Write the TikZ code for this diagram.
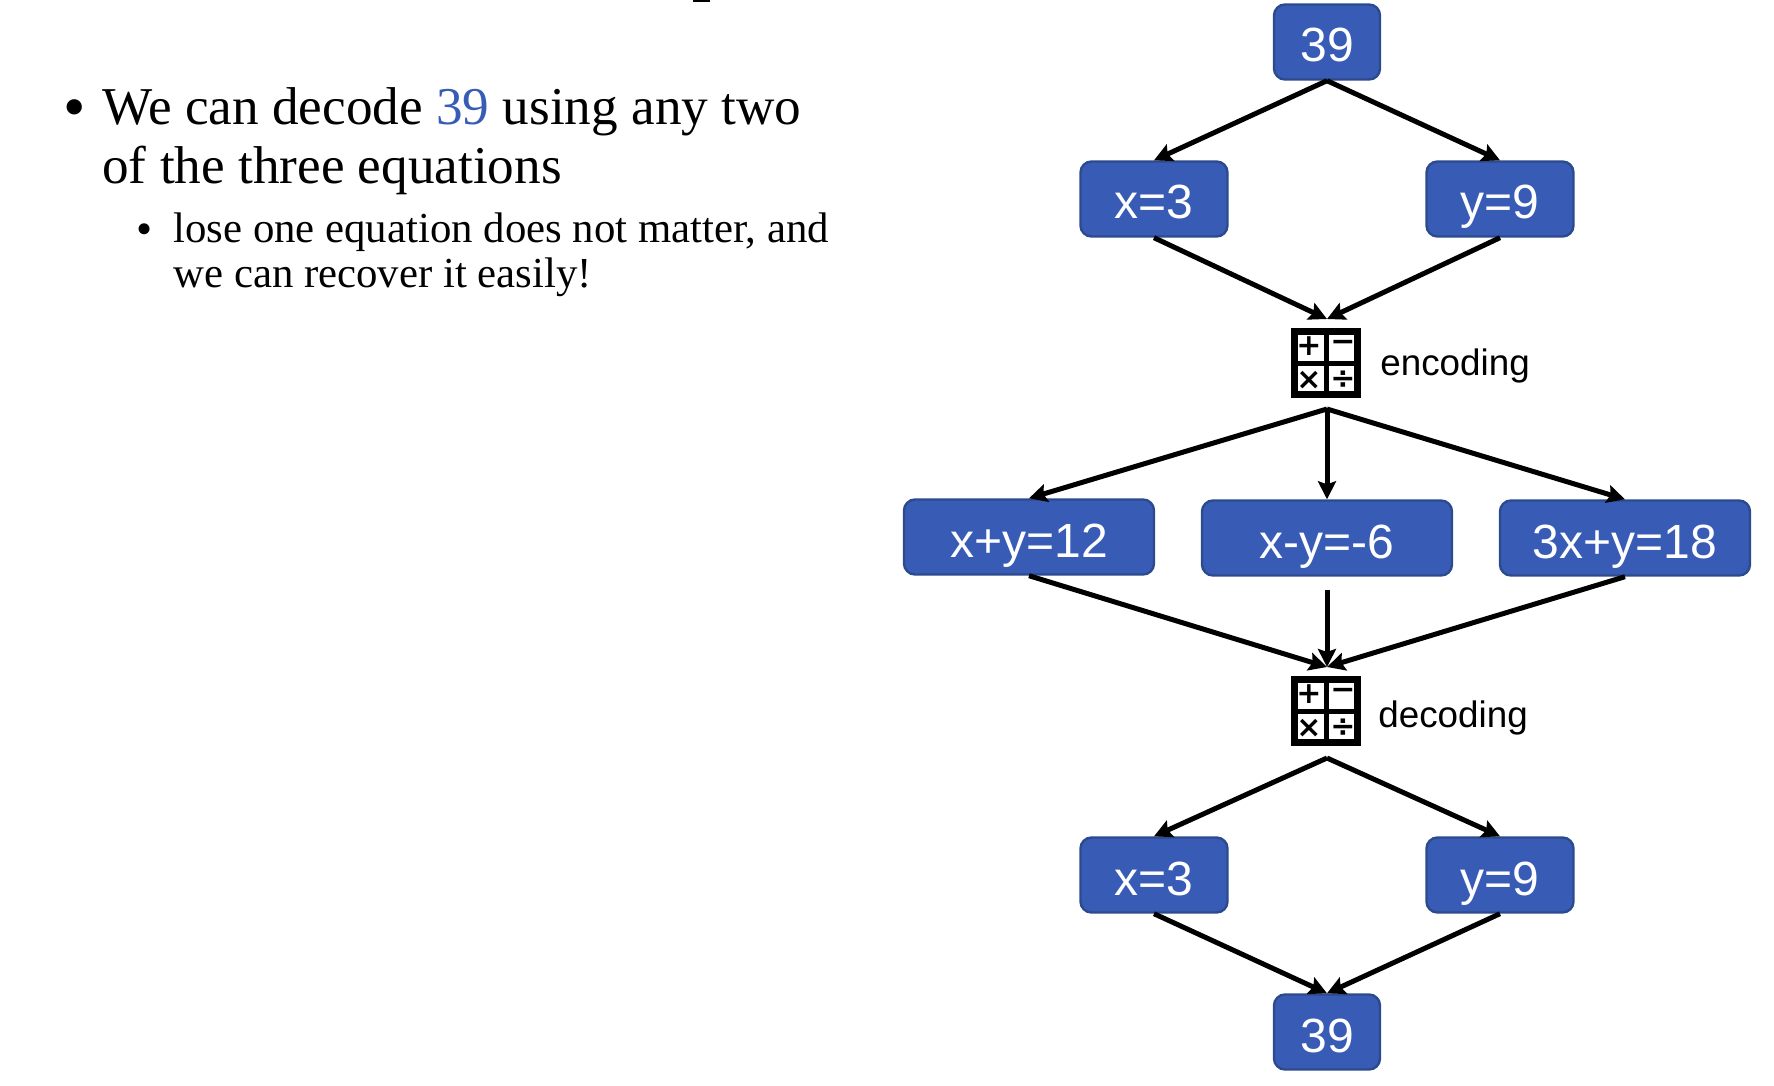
\documentclass[tikz,border=0pt]{standalone}
\usepackage{fontspec}
\setmainfont{Liberation Serif}
\setsansfont{Liberation Sans}
\newfontfamily\signfont{DejaVu Sans}
\usetikzlibrary{arrows.meta}
\definecolor{boxblue}{HTML}{385CB6}
\definecolor{boxline}{HTML}{2C4A8E}

% four signs and the cross inside an icon node
\newcommand{\calcsigns}[1]{
  \draw [line width=2.5pt] (#1.north) -- (#1.south);
  \draw [line width=2.5pt] (#1.west) -- (#1.east);
  \node [sign, xshift=-8.5pt, yshift=8.5pt] (#1plus) at (#1) {+};
  \node [sign, xshift=8.5pt, yshift=8.5pt] (#1minus) at (#1) {−};
  \node [sign, xshift=-8.5pt, yshift=-8.5pt] (#1times) at (#1) {×};
  \node [sign, xshift=8.5pt, yshift=-8.5pt] (#1div) at (#1) {÷};
}

\begin{document}
\begin{tikzpicture}
      [every node/.style={inner sep=0pt},
      numbox/.style={rectangle, draw=boxline, line width=1.2pt, fill=boxblue, rounded corners=5.5pt,
        text=white, font=\sffamily\fontsize{24}{24}\selectfont, minimum height=37.5pt,
        text height=20pt, text depth=0pt},
      small/.style={numbox, minimum width=73.5pt},
      root/.style={numbox, minimum width=53pt},
      wide/.style={numbox, minimum width=125pt},
      calc/.style={rectangle, draw, line width=3.5pt, minimum size=31.5pt},
      sign/.style={font=\signfont\bfseries\fontsize{15}{15}\selectfont},
      note/.style={font=\sffamily\fontsize{18.4}{18.4}\selectfont, anchor=base west},
      line/.style={-{Stealth[length=9pt,width=9pt,inset=1.5pt]}, line width=2.5pt},
      main/.style={font=\fontsize{26.6}{29.8}\selectfont, align=left, anchor=north west},
      sub/.style={font=\fontsize{21.4}{22.6}\selectfont, align=left, anchor=north west}]
      \useasboundingbox (0,0) rectangle (887pt,-543pt);
      % Text on the left
      \fill (346.5pt,0) rectangle (355pt,-1pt);
      \node [main] (maintext) at (51pt,-43.5pt) {We can decode \textcolor{boxblue}{39} using any two\\of the three equations};
      \node [sub] (subtext) at (86.5pt,-106pt) {lose one equation does not matter, and\\we can recover it easily!};
      \node [font=\fontsize{32}{32}\selectfont] (mainbullet) at (37.4pt,-57pt) {\textbullet};
      \node [font=\fontsize{23}{23}\selectfont] (subbullet) at (72.5pt,-117pt) {\textbullet};
      % Place nodes
      \node [root] (top) at (663.5pt,-21pt) {39};
      \node [below of=top, node distance=78.5pt] (upper) {};
      \node [small, left of=upper, node distance=86.5pt] (xa) {x=3};
      \node [small, right of=upper, node distance=86.5pt] (ya) {y=9};
      \node [calc, below of=top, node distance=160.5pt, xshift=-.5pt] (enc) {};
      \coordinate [above of=top, node distance=-138.5pt] (encin);
      \coordinate [below of=top, node distance=183.5pt] (encout);
      \node [wide, below of=top, node distance=247.5pt, xshift=-149pt] (eqa) {x+y=12};
      \node [wide, below of=top, node distance=248pt] (eqb) {x-y=-6};
      \node [wide, below of=top, node distance=248pt, xshift=149pt] (eqc) {3x+y=18};
      \node [calc, below of=top, node distance=334.5pt, xshift=-.5pt] (dec) {};
      \coordinate [below of=top, node distance=312.5pt] (decin);
      \coordinate [below of=top, node distance=358pt] (decout);
      \node [below of=top, node distance=416.5pt] (lower) {};
      \node [small, left of=lower, node distance=86.5pt] (xb) {x=3};
      \node [small, right of=lower, node distance=86.5pt] (yb) {y=9};
      \node [root, below of=top, node distance=495pt] (bottom) {39};
      \calcsigns{enc}
      \calcsigns{dec}
      \node [note] (enclabel) at (690pt,-187.5pt) {encoding};
      \node [note] (declabel) at (689pt,-363.5pt) {decoding};
      % Draw edges
      \draw [line] (top.south) -- (xa.north);
      \draw [line] (top.south) -- (ya.north);
      \draw [line] (xa.south) -- (encin);
      \draw [line] (ya.south) -- (encin);
      \draw [line] (encout) -- (eqa.north);
      \draw [line] (encout) -- (eqb.north);
      \draw [line] (encout) -- (eqc.north);
      \draw [line] (eqa.south) -- (decin);
      \draw [line, shorten <=6.5pt] (eqb.south) -- (decin);
      \draw [line] (eqc.south) -- (decin);
      \draw [line] (decout) -- (xb.north);
      \draw [line] (decout) -- (yb.north);
      \draw [line] (xb.south) -- (bottom.north);
      \draw [line] (yb.south) -- (bottom.north);
\end{tikzpicture}
\end{document}
